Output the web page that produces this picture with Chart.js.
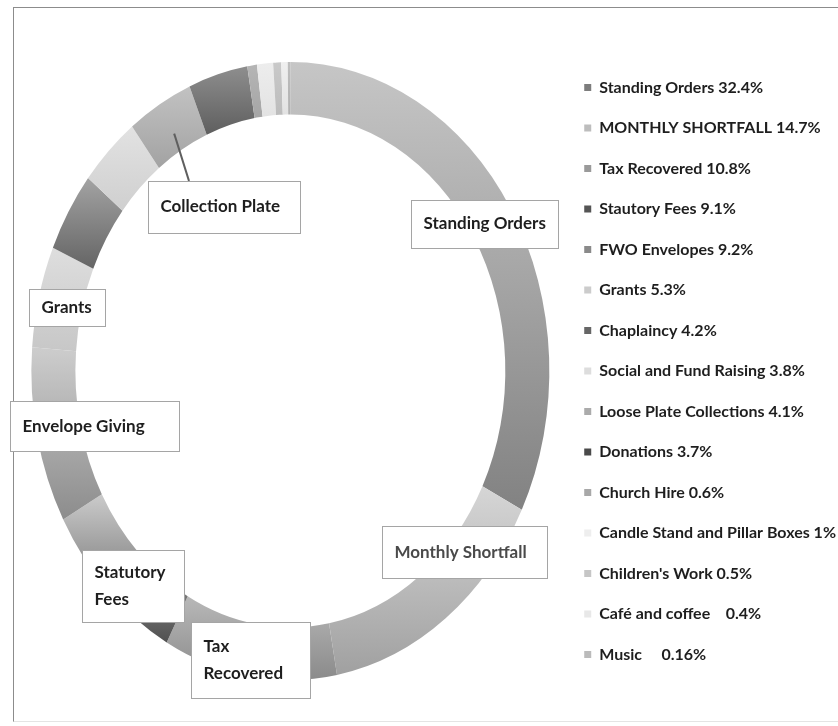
<!DOCTYPE html>
<html>
<head>
<meta charset="utf-8">
<script src="https://cdn.jsdelivr.net/npm/chart.js@4.4.1/dist/chart.umd.min.js"></script>
<style>
  html, body { margin: 0; padding: 0; background: #fff; overflow: hidden; }
  #wrap { position: relative; width: 838px; height: 726px; }
  #frame { position: absolute; left: 13px; top: 7px; width: 840px; height: 713px;
           border-top: 1.5px solid #8c8c8c; border-left: 1.5px solid #8c8c8c; border-bottom: 1px solid #e4e4e4; }
  canvas { position: absolute; left: 0; top: 0; }
</style>
</head>
<body>
<div id="wrap">
  <div id="frame"></div>
  <canvas id="income" width="838" height="726"></canvas>
</div>
<script>
  // income sources, clockwise from 12 o'clock
  var categories = ['Standing Orders', 'MONTHLY SHORTFALL', 'Tax Recovered', 'Stautory Fees',
    'FWO Envelopes', 'Grants', 'Chaplaincy', 'Social and Fund Raising', 'Loose Plate Collections',
    'Donations', 'Church Hire', 'Candle Stand and Pillar Boxes', "Children's Work",
    'Café and coffee ', 'Music  '];
  var shares = [32.4, 14.7, 10.8, 9.1, 9.2, 5.3, 4.2, 3.8, 4.1, 3.7, 0.6, 1, 0.5, 0.4, 0.16];
  var shareText = ['32.4%', '14.7%', '10.8%', '9.1%', '9.2%', '5.3%', '4.2%', '3.8%', '4.1%',
    '3.7%', '0.6%', '1%', '0.5%', '  0.4%', '  0.16%'];

  // callout text drawn on the ring, keyed by slice index
  var ringLabelIndex = [0, 1, 2, 3, 4, 5, 8];
  var ringLabelText = [['Standing Orders'], ['Monthly Shortfall'], ['Tax', 'Recovered'],
    ['Statutory', 'Fees'], ['Envelope Giving'], ['Grants'], ['Collection Plate']];

  // greys of the scanned print: legend swatch, and top/bottom of each slice's fill
  var swatch = ['#7d7d7d', '#bdbdbd', '#9a9a9a', '#555555', '#8a8a8a', '#cccccc', '#666666',
    '#dddddd', '#ababab', '#4a4a4a', '#a8a8a8', '#eeeeee', '#c6c6c6', '#e8e8e8', '#bbbbbb'];
  var shadeTop = ['#c6c6c6', '#d6d6d6', '#b8b8b8', '#cbcbcb', '#cdcdcd', '#dedede', '#a3a3a3',
    '#e2e2e2', '#c2c2c2', '#8e8e8e', '#b5b5b5', '#ededed', '#c9c9c9', '#efefef', '#bebebe'];
  var shadeBottom = ['#828282', '#a0a0a0', '#8a8a8a', '#505050', '#8c8c8c', '#c7c7c7', '#646464',
    '#cfcfcf', '#a2a2a2', '#5e5e5e', '#a5a5a5', '#e3e3e3', '#bcbcbc', '#e2e2e2', '#b0b0b0'];

  // the print is stretched vertically; ring is drawn squashed into an oval
  var OVAL_Y = 1.193;

  // callout boxes: offset from the slice's ring centre, and box size
  var boxStyle = [
    { dx: -8, dy: 1, w: 147, h: 48 },
    { dx: 32, dy: -45, w: 165, h: 52, color: '#4a4a4a' },
    { dx: -2, dy: 10, w: 119, h: 76 },
    { dx: 10, dy: 15, w: 102, h: 72 },
    { dx: 36, dy: -4, w: 169, h: 50 },
    { dx: 7, dy: 5, w: 76, h: 37 },
    { dx: 53, dy: 80, w: 152, h: 52, leader: true }
  ];

  var ovalRing = {
    id: 'ovalRing',
    beforeDatasetsDraw: function (chart) {
      var ctx = chart.ctx;
      var arcs = chart.getDatasetMeta(0).data;
      arcs.forEach(function (arc, i) {
        var top = Infinity, bottom = -Infinity;
        for (var k = 0; k <= 30; k++) {
          var a = arc.startAngle + (arc.endAngle - arc.startAngle) * k / 30;
          [arc.innerRadius, arc.outerRadius].forEach(function (r) {
            var y = arc.y + r * Math.sin(a);
            top = Math.min(top, y);
            bottom = Math.max(bottom, y);
          });
        }
        var g = ctx.createLinearGradient(0, top, 0, bottom + 0.5);
        g.addColorStop(0, shadeTop[i]);
        g.addColorStop(1, shadeBottom[i]);
        arc.options.backgroundColor = g;
      });
      var c = arcs[0];
      ctx.save();
      ctx.translate(c.x, c.y);
      ctx.scale(1, OVAL_Y);
      ctx.translate(-c.x, -c.y);
    },
    afterDatasetsDraw: function (chart) {
      var ctx = chart.ctx;
      ctx.restore();
      var arcs = chart.getDatasetMeta(0).data;
      ringLabelIndex.forEach(function (idx, n) {
        var arc = arcs[idx];
        var box = boxStyle[n];
        var mid = (arc.startAngle + arc.endAngle) / 2;
        var r = (arc.innerRadius + arc.outerRadius) / 2;
        var ax = arc.x + r * Math.cos(mid);
        var ay = arc.y + r * Math.sin(mid) * OVAL_Y;
        var cx = ax + box.dx, cy = ay + box.dy;
        var left = Math.round(cx - box.w / 2), top = Math.round(cy - box.h / 2);

        if (box.leader) {
          var r2 = arc.innerRadius + (arc.outerRadius - arc.innerRadius) * 0.35;
          ctx.beginPath();
          ctx.moveTo(arc.x + r2 * Math.cos(mid), arc.y + r2 * Math.sin(mid) * OVAL_Y);
          ctx.lineTo(left + 41, top);
          ctx.strokeStyle = '#5f5f5f';
          ctx.lineWidth = 2;
          ctx.stroke();
        }

        ctx.fillStyle = '#ffffff';
        ctx.fillRect(left, top, box.w, box.h);
        ctx.strokeStyle = '#a5a5a5';
        ctx.lineWidth = 1;
        ctx.strokeRect(left + 0.5, top + 0.5, box.w, box.h);

        var lines = ringLabelText[n];
        ctx.fillStyle = box.color || '#1e1e1e';
        ctx.font = 'bold 17px Lato';
        ctx.textAlign = 'left';
        ctx.textBaseline = 'middle';
        lines.forEach(function (t, j) {
          ctx.fillText(t, left + 12.5, cy + (j - (lines.length - 1) / 2) * 27);
        });
      });
    }
  };

  new Chart(document.getElementById('income'), {
    type: 'doughnut',
    data: {
      labels: categories.map(function (c, i) { return c + ' ' + shareText[i]; }),
      datasets: [{
        data: shares,
        backgroundColor: swatch,
        borderWidth: 0
      }]
    },
    options: {
      responsive: false,
      animation: false,
      radius: 259,
      cutout: '83%',
      layout: { padding: { left: 21, top: 16, right: -8, bottom: 0 } },
      plugins: {
        tooltip: { enabled: false },
        legend: {
          position: 'right',
          align: 'center',
          labels: {
            boxWidth: 7,
            boxHeight: 7,
            padding: 24.5,
            color: '#1e1e1e',
            font: { family: 'Lato', size: 16, weight: 'bold' }
          }
        }
      }
    },
    plugins: [ovalRing]
  });
</script>
</body>
</html>
